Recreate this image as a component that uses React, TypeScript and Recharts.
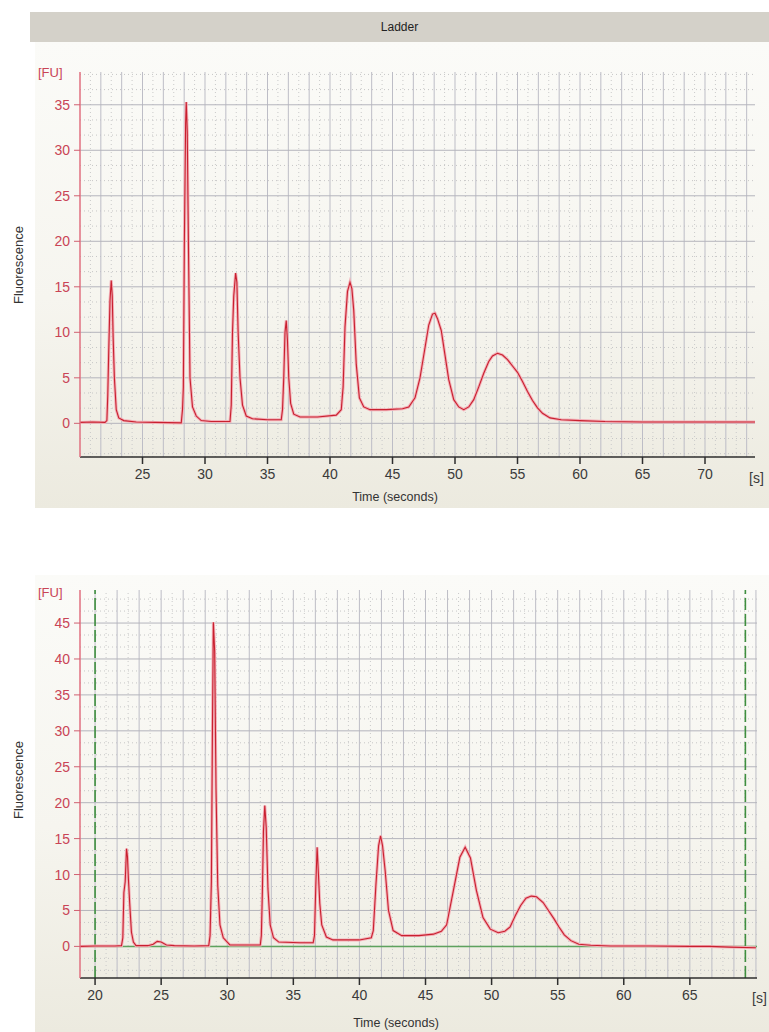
import React from 'react';
import {
  LineChart,
  Line,
  XAxis,
  YAxis,
  ReferenceLine,
} from 'recharts';

// Ladder run (top panel)
const TOP_TIME = [
  20.0, 21.0, 22.0, 22.15, 22.22, 22.3, 22.4, 22.5, 22.58, 22.65, 22.75, 22.9, 23.1, 23.5, 24.5, 26.0,
  28.1, 28.2, 28.27, 28.35, 28.45, 28.5, 28.58, 28.68, 28.8, 29.0, 29.3, 29.7, 30.5,
  32.0, 32.1, 32.2, 32.3, 32.45, 32.55, 32.65, 32.8, 33.0, 33.3, 33.8, 35.0,
  36.1, 36.2, 36.3, 36.4, 36.5, 36.6, 36.7, 36.85, 37.1, 37.6, 39.0, 40.5,
  40.9, 41.05, 41.2, 41.4, 41.6, 41.75, 41.9, 42.1, 42.35, 42.7, 43.2, 44.5, 45.8,
  46.3, 46.8, 47.2, 47.6, 47.9, 48.2, 48.4, 48.6, 48.9, 49.2, 49.5, 49.9, 50.3, 50.7,
  51.1, 51.5, 51.9, 52.3, 52.7, 53.0, 53.4, 53.8, 54.2, 54.6, 55.0, 55.4, 55.8, 56.2, 56.6,
  57.0, 57.6, 58.5, 60.0, 62.0, 65.0, 70.0, 74.0,
];
const TOP_FU = [
  0.1, 0.15, 0.1, 0.3, 3, 8, 13.5, 15.7, 14, 9.5, 5, 1.5, 0.6, 0.3, 0.15, 0.1,
  0.05, 1.5, 4, 20, 33, 35.3, 32, 19, 5, 1.8, 0.8, 0.3, 0.2,
  0.2, 2, 10, 14, 16.5, 15.5, 10, 5, 2, 0.8, 0.5, 0.4,
  0.4, 1.5, 5, 10, 11.3, 9, 5, 2.2, 1.0, 0.7, 0.7, 0.9,
  1.5, 4, 10.6, 14.5, 15.5, 14.8, 12.4, 6.5, 2.8, 1.8, 1.5, 1.5, 1.6,
  1.8, 2.8, 5, 8.3, 10.8, 12, 12.1, 11.5, 10.2, 7.5, 4.8, 2.6, 1.8, 1.5,
  1.8, 2.6, 4, 5.5, 6.8, 7.4, 7.7, 7.5, 7.0, 6.3, 5.6, 4.6, 3.5, 2.5, 1.7,
  1.1, 0.6, 0.4, 0.3, 0.2, 0.15, 0.15, 0.15,
];

// Sample run (bottom panel)
const BOTTOM_TIME = [
  18.86, 20.0, 21.5, 22.0, 22.1, 22.18, 22.28, 22.38, 22.45, 22.52, 22.62, 22.75, 22.9, 23.1,
  24.0, 24.4, 24.7, 25.0, 25.4, 26.0, 27.5,
  28.6, 28.7, 28.8, 28.88, 28.95, 29.05, 29.15, 29.28, 29.45, 29.7, 30.2, 31.5,
  32.5, 32.58, 32.66, 32.74, 32.84, 32.95, 33.08, 33.25, 33.5, 33.9, 35.5,
  36.5, 36.6, 36.7, 36.8, 36.9, 37.0, 37.15, 37.5, 38.0, 40.0,
  40.9, 41.05, 41.25, 41.45, 41.6, 41.75, 41.95, 42.2, 42.55, 43.2, 44.5, 45.6,
  46.2, 46.6, 47.1, 47.6, 48.0, 48.4, 48.85, 49.35, 49.9, 50.5,
  51.0, 51.4, 51.8, 52.2, 52.6, 53.0, 53.4, 53.9, 54.3, 54.7, 55.1, 55.5, 56.0, 56.6,
  57.5, 59.0, 62.0, 65.0, 66.5, 68.0, 70.0,
];
const BOTTOM_FU = [
  0.0, 0.05, 0.05, 0.1, 1.2, 7.5, 9, 13.6, 12.5, 9.5, 6, 2, 0.6, 0.1,
  0.1, 0.3, 0.7, 0.6, 0.2, 0.1, 0.05,
  0.1, 1.5, 9, 30, 45.1, 41, 22, 8.5, 3, 1.2, 0.2, 0.2,
  0.2, 1.5, 7.7, 16, 19.6, 16.5, 8, 3, 1.2, 0.6, 0.5,
  0.5, 1.5, 8.5, 13.8, 10, 6, 3, 1.3, 0.9, 0.9,
  1.2, 2.2, 8.6, 14, 15.4, 14, 10.5, 5, 2.2, 1.5, 1.5, 1.7,
  2.1, 3.0, 7.7, 12.4, 13.8, 12.3, 7.8, 4, 2.4, 1.9,
  2.1, 2.7, 4.3, 5.7, 6.7, 7.0, 6.9, 6.1, 5.0, 3.9, 2.7, 1.6, 0.8, 0.3,
  0.15, 0.05, 0.05, 0.0, 0.0, -0.1, -0.2,
];

const TOP_X_TICKS = [25, 30, 35, 40, 45, 50, 55, 60, 65, 70];
const TOP_Y_TICKS = [0, 5, 10, 15, 20, 25, 30, 35];
const BOTTOM_X_TICKS = [20, 25, 30, 35, 40, 45, 50, 55, 60, 65];
const BOTTOM_Y_TICKS = [0, 5, 10, 15, 20, 25, 30, 35, 40, 45];
const BOTTOM_MARKERS = [20, 69.2];

const FONT = '"Liberation Sans", Arial, sans-serif';
const RED_TEXT = '#c94456';
const TRACE = '#c8202f';
const HALO = '#f3b0b8';

// grid spacing helper (not data)
function steps(from: number, to: number, step: number) {
  const out: number[] = [];
  for (let v = from; v <= to + 1e-6; v += step) out.push(+v.toFixed(4));
  return out;
}

interface PanelProps {
  top: number;
  height: number;
  time: number[];
  fu: number[];
  xDomain: [number, number];
  yDomain: [number, number];
  xTicks: number[];
  yTicks: number[];
  margin: { top: number; right: number; left: number; bottom: number };
  xAxisHeight: number;
  markers?: number[];
}

function Panel({ top, height, time, fu, xDomain, yDomain, xTicks, yTicks, margin, xAxisHeight, markers }: PanelProps) {
  const data = time.map((t, i) => ({ t, fu: fu[i] }));
  const third = 5 / 3;
  const xStart = 20 - Math.floor((20 - xDomain[0]) / third) * third;
  const vSolid = steps(xStart, xDomain[1], third).filter((v) => v > xDomain[0] + 0.05 && v < xDomain[1] - 0.05);
  const vDotted = steps(xStart + third / 2, xDomain[1], third).filter((v) => v > xDomain[0] && v < xDomain[1]);
  const hSolid = steps(0, yDomain[1], 5);
  const hDotted = steps(-10 / 3, yDomain[1], third).filter((v) => Math.abs(v % 5) > 0.01);

  return (
    <div style={{ position: 'absolute', left: 0, top, width: 769, height }}>
      <LineChart width={769} height={height} data={data} margin={margin}>
        <XAxis
          dataKey="t"
          type="number"
          domain={xDomain}
          ticks={xTicks}
          allowDataOverflow
          height={xAxisHeight}
          axisLine={{ stroke: '#2e2e2e', strokeWidth: 1.5 }}
          tickLine={{ stroke: '#2e2e2e', strokeWidth: 1.5 }}
          tickSize={7}
          tickMargin={5}
          tick={{ fill: '#3a3a3a', fontSize: 14, fontFamily: FONT }}
        />
        <YAxis
          type="number"
          domain={yDomain}
          ticks={yTicks}
          allowDataOverflow
          width={50}
          axisLine={{ stroke: '#e07080', strokeWidth: 1.5 }}
          tickLine={{ stroke: '#d06070' }}
          tickSize={6}
          tickMargin={4}
          tick={{ fill: RED_TEXT, fontSize: 14, fontFamily: FONT }}
        />
        {hDotted.map((v) => (
          <ReferenceLine key={`hd${v}`} y={v} stroke="#c6c6c6" strokeDasharray="1 3" />
        ))}
        {vDotted.map((v) => (
          <ReferenceLine key={`vd${v}`} x={v} stroke="#cacaca" strokeDasharray="1 3" />
        ))}
        {vSolid.map((v) => (
          <ReferenceLine key={`vs${v}`} x={v} stroke="#bdbdc6" />
        ))}
        {hSolid.map((v) => (
          <ReferenceLine key={`hs${v}`} y={v} stroke="#b4b4bc" />
        ))}
        {markers && <ReferenceLine y={0} stroke="#5ea25e" strokeWidth={1.5} />}
        {markers &&
          markers.map((m) => (
            <ReferenceLine key={`m${m}`} x={m} stroke="#3f8f3f" strokeWidth={1.6} strokeDasharray="12 4" />
          ))}
        <Line
          type="linear"
          dataKey="fu"
          stroke={HALO}
          strokeWidth={3}
          dot={false}
          isAnimationActive={false}
        />
        <Line
          type="linear"
          dataKey="fu"
          stroke={TRACE}
          strokeWidth={1.1}
          dot={false}
          isAnimationActive={false}
        />
      </LineChart>
    </div>
  );
}

const label: React.CSSProperties = {
  position: 'absolute',
  fontFamily: FONT,
  whiteSpace: 'nowrap',
};

export default function App() {
  const panelBg = 'linear-gradient(#fbfbf8, #f6f5ef 55%, #eceadf)';
  return (
    <div style={{ position: 'absolute', left: 0, top: 0, width: 769, height: 1032, background: '#fff', overflow: 'hidden' }}>
      <div
        style={{
          ...label,
          left: 30,
          top: 12,
          width: 739,
          height: 30,
          lineHeight: '30px',
          background: '#d4d1c9',
          textAlign: 'center',
          fontSize: 12,
          color: '#222',
        }}
      >
        Ladder
      </div>
      <div style={{ position: 'absolute', left: 35, top: 42, width: 734, height: 466, background: panelBg }} />
      <div style={{ position: 'absolute', left: 35, top: 575, width: 734, height: 457, background: panelBg }} />

      <Panel
        top={0}
        height={510}
        time={TOP_TIME}
        fu={TOP_FU}
        xDomain={[20, 74]}
        yDomain={[-3.7, 38.6]}
        xTicks={TOP_X_TICKS}
        yTicks={TOP_Y_TICKS}
        margin={{ top: 72, right: 14, left: 30, bottom: 0 }}
        xAxisHeight={53}
      />
      <Panel
        top={540}
        height={492}
        time={BOTTOM_TIME}
        fu={BOTTOM_FU}
        xDomain={[18.86, 70.08]}
        yDomain={[-4.4, 49.6]}
        xTicks={BOTTOM_X_TICKS}
        yTicks={BOTTOM_Y_TICKS}
        margin={{ top: 50, right: 12, left: 30, bottom: 0 }}
        xAxisHeight={54}
        markers={BOTTOM_MARKERS}
      />

      <div style={{ ...label, left: 38, top: 65, fontSize: 13, color: RED_TEXT }}>[FU]</div>
      <div style={{ ...label, left: 38, top: 585, fontSize: 13, color: RED_TEXT }}>[FU]</div>
      <div style={{ ...label, left: 749, top: 470, fontSize: 14, color: '#3a3a3a' }}>[s]</div>
      <div style={{ ...label, left: 752, top: 990, fontSize: 14, color: '#3a3a3a' }}>[s]</div>
      <div style={{ ...label, left: 395, top: 497, transform: 'translate(-50%, -50%)', fontSize: 12.5, color: '#333' }}>
        Time (seconds)
      </div>
      <div style={{ ...label, left: 396, top: 1023, transform: 'translate(-50%, -50%)', fontSize: 12.5, color: '#333' }}>
        Time (seconds)
      </div>
      <div style={{ ...label, left: 18, top: 265, transform: 'translate(-50%, -50%) rotate(-90deg)', fontSize: 13, color: '#333' }}>
        Fluorescence
      </div>
      <div style={{ ...label, left: 18, top: 780, transform: 'translate(-50%, -50%) rotate(-90deg)', fontSize: 13, color: '#333' }}>
        Fluorescence
      </div>
    </div>
  );
}
